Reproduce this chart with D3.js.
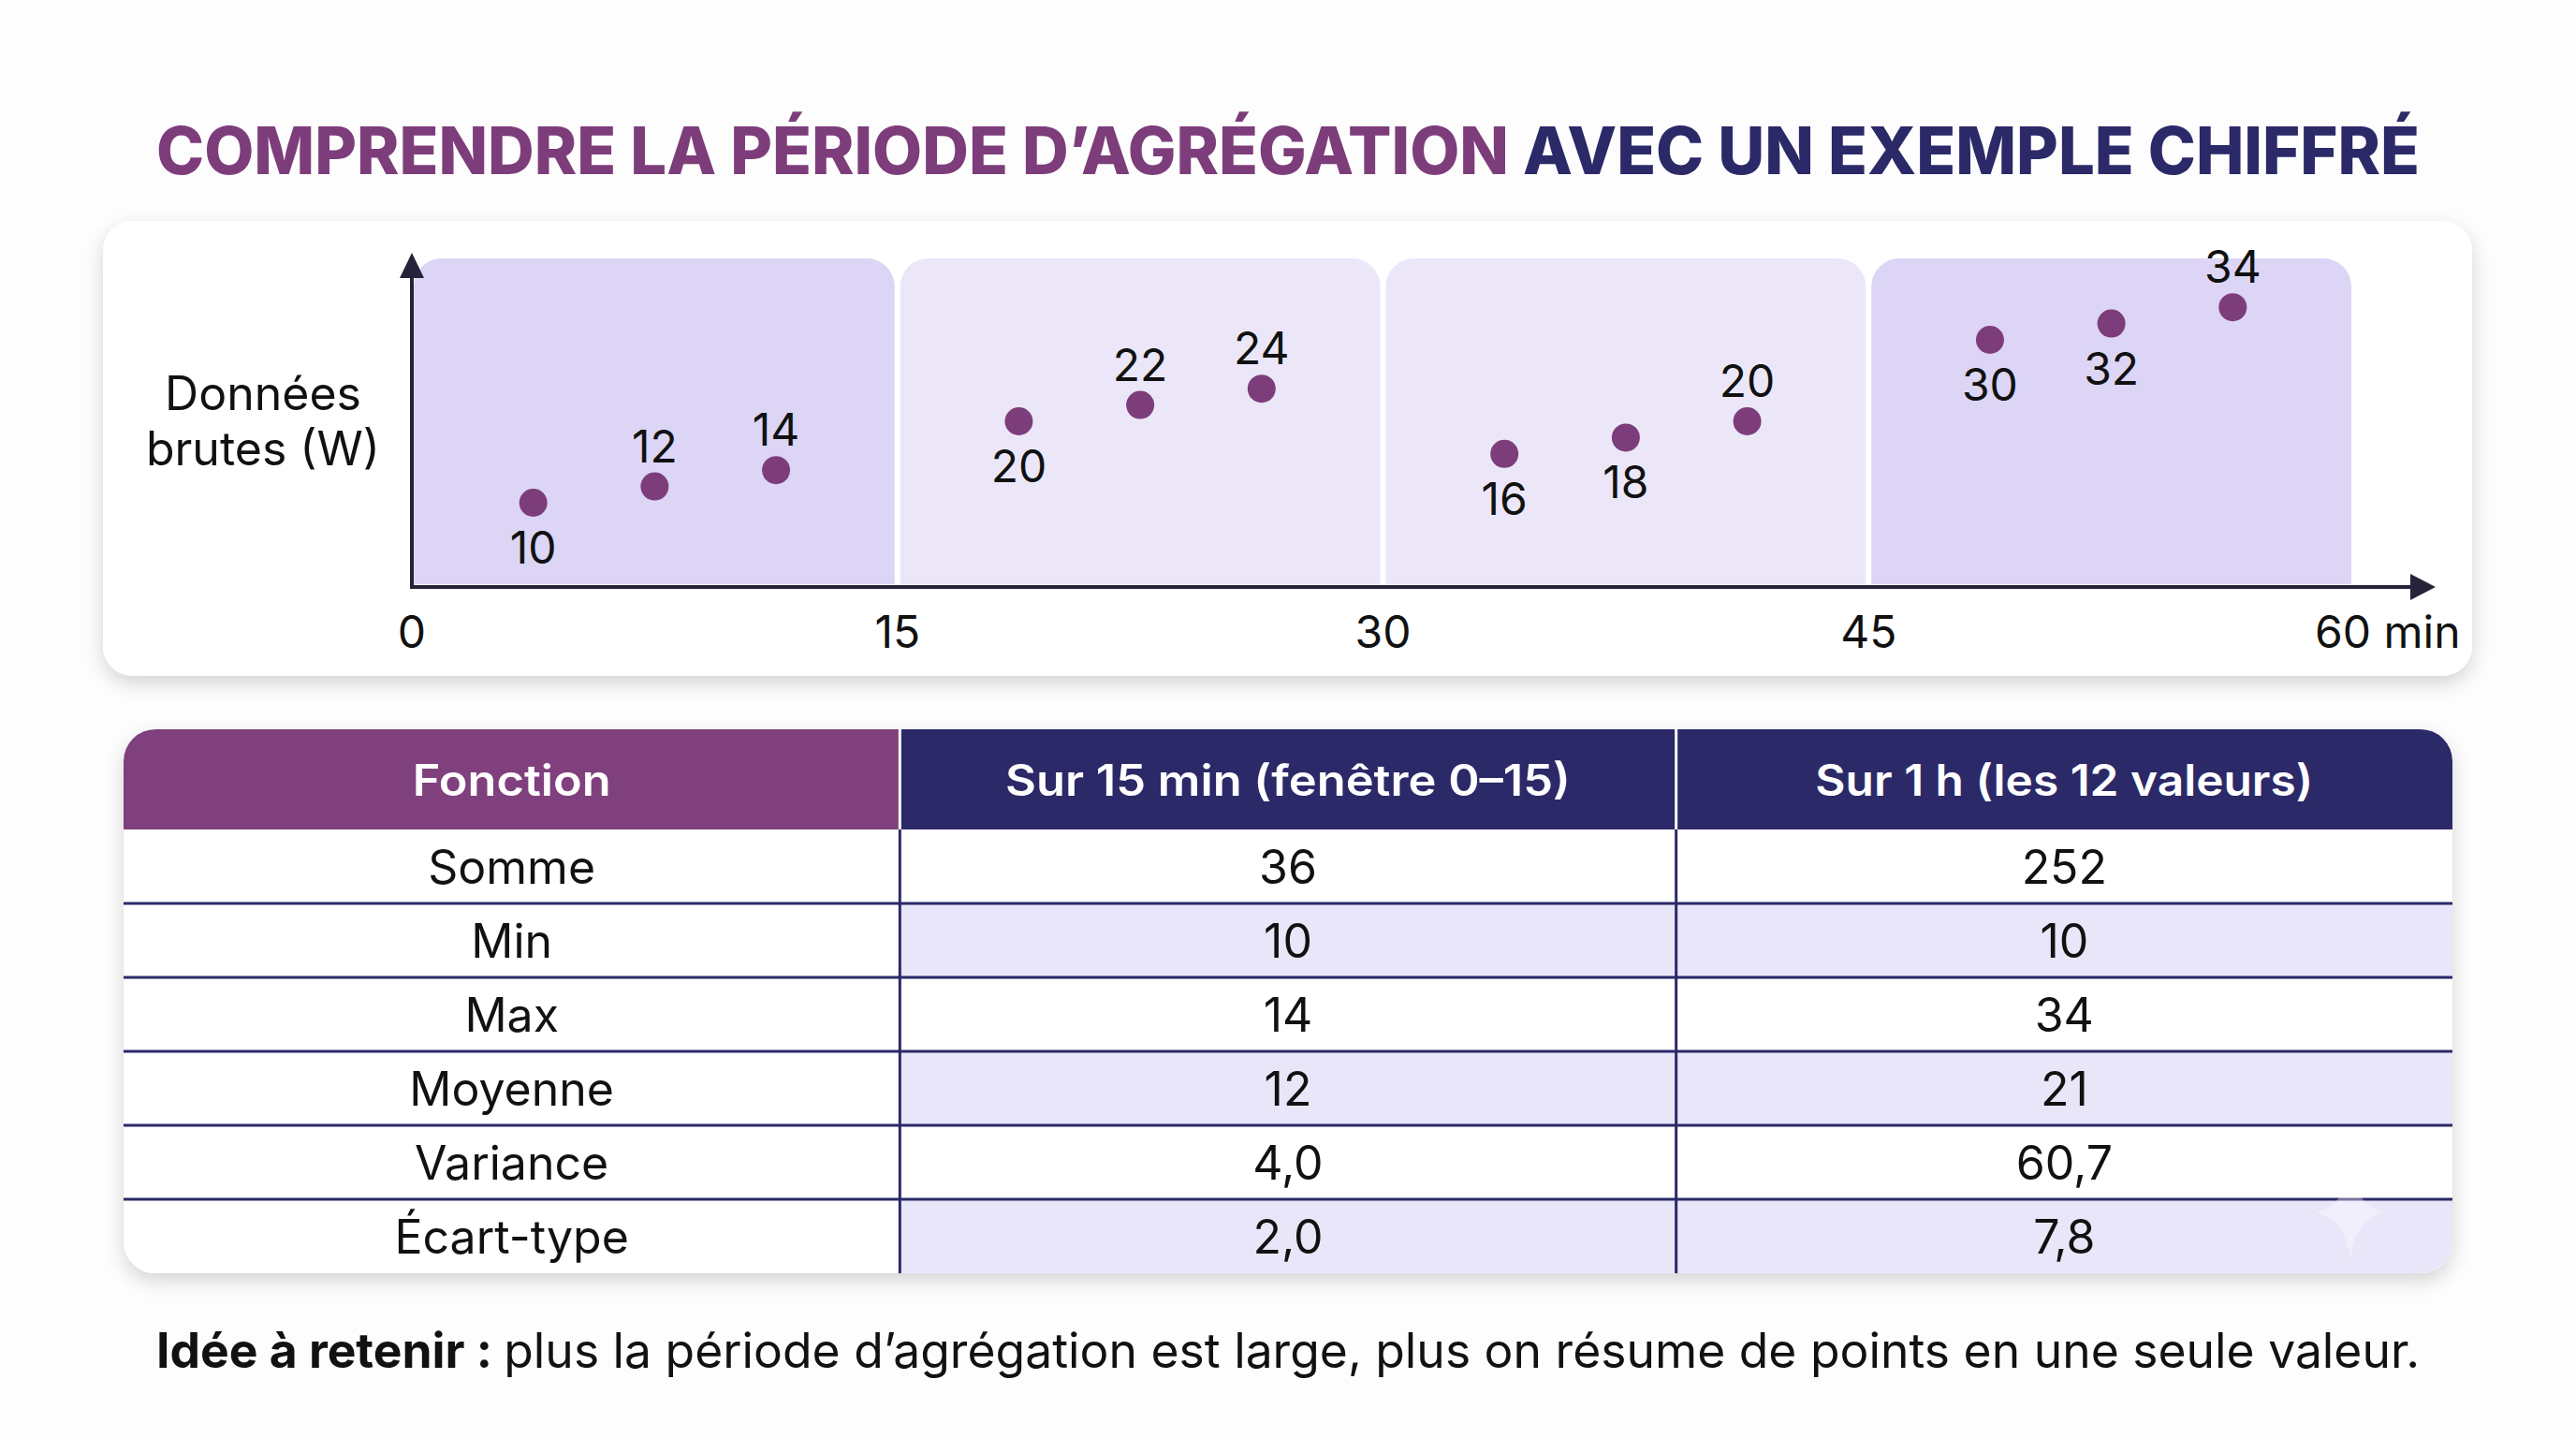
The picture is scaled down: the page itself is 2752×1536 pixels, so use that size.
<!DOCTYPE html>
<html>
<head>
<meta charset="utf-8">
<script src="https://cdn.jsdelivr.net/npm/d3@7"></script>
<style>
  html, body { margin: 0; padding: 0; background: #fdfdfd; }
  svg { display: block; font-family: Inter, "Open Sans", sans-serif; }
</style>
</head>
<body>
<svg id="chart" width="2752" height="1536"></svg>
<script>
// raw readings, one every 3.75 min
var times = [3.75, 7.5, 11.25, 18.75, 22.5, 26.25, 33.75, 37.5, 41.25, 48.75, 52.5, 56.25];
var values = [10, 12, 14, 20, 22, 24, 16, 18, 20, 30, 32, 34];
var labelSide = ["below", "above", "above", "below", "above", "above",
                 "below", "below", "above", "below", "below", "above"];
var xTicks = [0, 15, 30, 45, 60];
var windowStarts = [0, 15, 30, 45];
var windowStrong = [true, false, false, true];

// table
var headers = ["Fonction", "Sur 15 min (fenêtre 0–15)", "Sur 1 h (les 12 valeurs)"];
var functions = ["Somme", "Min", "Max", "Moyenne", "Variance", "Écart-type"];
var window15 = ["36", "10", "14", "12", "4,0", "2,0"];
var oneHour = ["252", "10", "34", "21", "60,7", "7,8"];

var purple = "#7d3d7b", navy = "#2b2968", ink = "#111111", axisInk = "#25223a";

var svg = d3.select("#chart");

var defs = svg.append("defs");
var shadow = defs.append("filter").attr("id", "shadow")
  .attr("x", "-5%").attr("y", "-10%").attr("width", "110%").attr("height", "130%");
shadow.append("feDropShadow").attr("dx", 0).attr("dy", 8)
  .attr("stdDeviation", 10).attr("flood-color", "#000").attr("flood-opacity", 0.16);

function fitWidth(sel, w) {
  sel.attr("textLength", w).attr("lengthAdjust", "spacingAndGlyphs");
}

function topRounded(x, y, w, h, r) {
  return "M" + x + "," + (y + h) + "V" + (y + r) +
    "A" + r + "," + r + " 0 0 1 " + (x + r) + "," + y +
    "H" + (x + w - r) +
    "A" + r + "," + r + " 0 0 1 " + (x + w) + "," + (y + r) +
    "V" + (y + h) + "Z";
}

// ---- title
var title = svg.append("text")
  .attr("x", 1376).attr("y", 186)
  .attr("text-anchor", "middle")
  .attr("font-size", 70).attr("font-weight", 800);
title.append("tspan").attr("fill", purple).text("COMPRENDRE LA PÉRIODE D’AGRÉGATION ");
title.append("tspan").attr("fill", navy).text("AVEC UN EXEMPLE CHIFFRÉ");
fitWidth(title, 2418);

// ---- chart card
svg.append("rect")
  .attr("x", 110).attr("y", 236).attr("width", 2531).attr("height", 486)
  .attr("rx", 32).attr("fill", "#ffffff").attr("filter", "url(#shadow)");

var x = d3.scaleLinear().domain([0, 60]).range([440, 2515]);
var y = d3.scaleLinear().domain([0, 40]).range([624, 276]);

// aggregation windows
svg.append("g").selectAll("path")
  .data(windowStarts)
  .enter().append("path")
    .attr("d", function(d, i) {
      var x0 = x(d) + (i === 0 ? 2 : 3), x1 = x(d + 15) - 3;
      return topRounded(x0, y(40), x1 - x0, y(0) - y(40), 30);
    })
    .attr("fill", function(d, i) { return windowStrong[i] ? "#dcd5f6" : "#ebe7f9"; });

// axes
svg.append("line")
  .attr("x1", x(0)).attr("y1", y(0) + 3).attr("x2", x(0)).attr("y2", y(40) + 20)
  .attr("stroke", axisInk).attr("stroke-width", 4);
svg.append("path")
  .attr("d", "M" + x(0) + "," + (y(40) - 6) + "l-13,27h26z")
  .attr("fill", axisInk);
svg.append("line")
  .attr("x1", x(0) - 2).attr("y1", y(0) + 3).attr("x2", 2580).attr("y2", y(0) + 3)
  .attr("stroke", axisInk).attr("stroke-width", 4);
svg.append("path")
  .attr("d", "M2602," + (y(0) + 3) + "l-27,-14v28z")
  .attr("fill", axisInk);

// tick labels
svg.append("g").selectAll("text")
  .data(xTicks)
  .enter().append("text")
    .attr("x", function(d) { return d === 60 ? x(d) - 42 : x(d); })
    .attr("y", 692)
    .attr("text-anchor", function(d) { return d === 60 ? "start" : "middle"; })
    .attr("font-size", 48).attr("fill", ink)
    .text(function(d) { return d === 60 ? "60 min" : d; });

// y label
var yLab = svg.append("text")
  .attr("x", 281).attr("text-anchor", "middle")
  .attr("font-size", 50).attr("fill", ink);
yLab.append("tspan").attr("x", 281).attr("y", 438).text("Données");
yLab.append("tspan").attr("x", 281).attr("y", 497).text("brutes (W)");

// points
var pts = svg.append("g").selectAll("g")
  .data(values)
  .enter().append("g");
pts.append("circle")
  .attr("cx", function(d, i) { return x(times[i]); })
  .attr("cy", function(d) { return y(d); })
  .attr("r", 15)
  .attr("fill", purple);
pts.append("text")
  .attr("x", function(d, i) { return x(times[i]); })
  .attr("y", function(d, i) { return labelSide[i] === "above" ? y(d) - 26 : y(d) + 65; })
  .attr("text-anchor", "middle")
  .attr("font-size", 48).attr("fill", ink)
  .text(function(d) { return d; });

// ---- table
var tx0 = 132, tx1 = 2620, ty0 = 779, headH = 107, rowH = 79;
var col = d3.scaleBand().domain(d3.range(headers.length)).range([tx0, tx1]);
var row = d3.scaleBand().domain(d3.range(functions.length))
  .range([ty0 + headH, ty0 + headH + rowH * functions.length]);
var ty1 = row.range()[1];

svg.append("rect")
  .attr("x", tx0).attr("y", ty0).attr("width", tx1 - tx0).attr("height", ty1 - ty0)
  .attr("rx", 34).attr("fill", "#ffffff").attr("filter", "url(#shadow)");

defs.append("clipPath").attr("id", "tableClip")
  .append("rect")
    .attr("x", tx0).attr("y", ty0).attr("width", tx1 - tx0).attr("height", ty1 - ty0)
    .attr("rx", 34);

var table = svg.append("g").attr("clip-path", "url(#tableClip)");

var columns = [functions, window15, oneHour];

// cell backgrounds
columns.forEach(function(c, ci) {
  table.append("g").selectAll("rect")
    .data(c)
    .enter().append("rect")
      .attr("x", col(ci)).attr("y", function(d, ri) { return row(ri); })
      .attr("width", col.bandwidth()).attr("height", row.bandwidth())
      .attr("fill", function(d, ri) { return ci > 0 && ri % 2 === 1 ? "#e9e6f9" : "#ffffff"; });
});

// header
table.append("g").selectAll("rect")
  .data(headers)
  .enter().append("rect")
    .attr("x", function(d, i) { return col(i); }).attr("y", ty0)
    .attr("width", col.bandwidth()).attr("height", headH)
    .attr("fill", function(d, i) { return i === 0 ? "#7f407d" : navy; });

// grid lines
table.append("g").selectAll("line")
  .data(d3.range(1, functions.length))
  .enter().append("line")
    .attr("x1", tx0).attr("x2", tx1)
    .attr("y1", function(d) { return row(d); }).attr("y2", function(d) { return row(d); })
    .attr("stroke", navy).attr("stroke-width", 3);
table.append("g").selectAll("line")
  .data(d3.range(1, headers.length))
  .enter().append("line")
    .attr("x1", function(d) { return col(d); }).attr("x2", function(d) { return col(d); })
    .attr("y1", ty0 + headH).attr("y2", ty1)
    .attr("stroke", navy).attr("stroke-width", 3);
table.append("g").selectAll("line")
  .data(d3.range(1, headers.length))
  .enter().append("line")
    .attr("x1", function(d) { return col(d); }).attr("x2", function(d) { return col(d); })
    .attr("y1", ty0).attr("y2", ty0 + headH)
    .attr("stroke", "#ffffff").attr("stroke-width", 3);

// faint sparkle
table.append("path")
  .attr("d", "M2511,1245 Q2517,1289 2548,1295 Q2517,1301 2511,1345 Q2505,1301 2474,1295 Q2505,1289 2511,1245Z")
  .attr("fill", "#ffffff").attr("opacity", 0.35);

// header text
var headWidths = [212, 604, 532];
svg.append("g").selectAll("text")
  .data(headers)
  .enter().append("text")
    .attr("x", function(d, i) { return col(i) + col.bandwidth() / 2; })
    .attr("y", ty0 + headH / 2 + 17)
    .attr("text-anchor", "middle")
    .attr("font-size", 46).attr("font-weight", 600).attr("fill", "#ffffff")
    .text(function(d) { return d; })
    .each(function(d, i) { fitWidth(d3.select(this), headWidths[i]); });

// body text
columns.forEach(function(c, ci) {
  svg.append("g").selectAll("text")
    .data(c)
    .enter().append("text")
      .attr("x", col(ci) + col.bandwidth() / 2)
      .attr("y", function(d, ri) { return row(ri) + row.bandwidth() / 2 + 18; })
      .attr("text-anchor", "middle")
      .attr("font-size", 50).attr("fill", ink)
      .text(function(d) { return d; });
});

// ---- footnote
var note = svg.append("text")
  .attr("x", 1376).attr("y", 1461)
  .attr("text-anchor", "middle")
  .attr("font-size", 52).attr("fill", ink);
note.append("tspan").attr("font-weight", 700).text("Idée à retenir : ");
note.append("tspan").text("plus la période d’agrégation est large, plus on résume de points en une seule valeur.");
fitWidth(note, 2418);
</script>
</body>
</html>
